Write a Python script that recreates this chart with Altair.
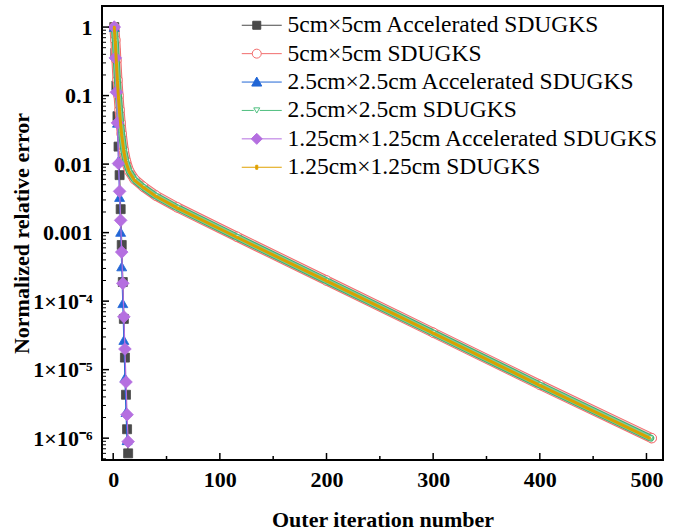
import altair as alt
import pandas as pd

# ---------------- data ----------------
labels = [
    "5cm×5cm Accelerated SDUGKS",
    "5cm×5cm SDUGKS",
    "2.5cm×2.5cm Accelerated SDUGKS",
    "2.5cm×2.5cm SDUGKS",
    "1.25cm×1.25cm Accelerated SDUGKS",
    "1.25cm×1.25cm SDUGKS",
]

# accelerated runs
acc5_iter = [1, 2, 3, 4, 5, 6, 7, 8, 9, 10, 11, 12, 13, 14]
acc5_err = [1.0, 0.42, 0.14, 0.050, 0.018, 0.0069, 0.0022, 6.6e-4, 1.9e-4,
            5.5e-5, 1.5e-5, 4.3e-6, 1.35e-6, 6.0e-7]
acc25_iter = [1, 2, 3, 4, 5, 6, 7, 8, 9, 10, 11, 12, 13]
acc25_err = [1.0, 0.40, 0.126, 0.040, 0.0112, 0.0033, 0.00102, 3.2e-4, 9.3e-5,
             2.7e-5, 7.6e-6, 2.4e-6, 9.3e-7]
acc125_iter = [1, 2, 3, 4, 5, 6, 7, 8, 9, 10, 11, 12, 13, 14]
acc125_err = [1.0, 0.355, 0.112, 0.040, 0.0102, 0.0040, 0.00151, 5.2e-4, 1.82e-4,
              5.9e-5, 2.0e-5, 6.6e-6, 2.2e-6, 8.9e-7]

# plain SDUGKS runs
sd5_iter = [1, 2, 3, 4, 5, 6, 7, 8, 10, 12, 15, 20, 28, 40, 60, 116, 200, 300, 400, 505]
sd5_err = [1.0, 0.65, 0.33, 0.17, 0.10, 0.062, 0.040, 0.0275, 0.0158, 0.011, 0.0079,
           0.0060, 0.0047, 0.00347, 0.00234, 8.7e-4, 2.0e-4, 3.47e-5, 6.0e-6, 1.0e-6]
sd25_iter = [1, 2, 3, 4, 5, 6, 7, 8, 10, 12, 15, 20, 28, 40, 60, 116, 200, 300, 400, 504]
sd25_err = [1.0, 0.62, 0.31, 0.16, 0.095, 0.060, 0.039, 0.027, 0.0155, 0.0108, 0.0078,
            0.0059, 0.0046, 0.00342, 0.00231, 8.6e-4, 1.98e-4, 3.44e-5, 5.95e-6, 1.0e-6]
sd125_iter = [1, 2, 3, 4, 5, 6, 7, 8, 10, 12, 15, 20, 28, 40, 60, 116, 200, 300, 400, 503]
sd125_err = [1.0, 0.60, 0.30, 0.155, 0.092, 0.058, 0.038, 0.0265, 0.0152, 0.0106, 0.0077,
             0.0058, 0.0046, 0.0034, 0.0023, 8.55e-4, 1.97e-4, 3.42e-5, 5.9e-6, 1.0e-6]

x_major = [0, 100, 200, 300, 400, 500]
x_minor = [50, 150, 250, 350, 450]
y_major = [1.0, 0.1, 0.01, 0.001, 1e-4, 1e-5, 1e-6]
y_minor = [m * 10.0 ** k for k in range(-7, 1) for m in range(2, 10)
           if 4.8e-7 < m * 10.0 ** k < 2.0]

colors = ["#4a4a4a", "#f26d6d", "#2166d6", "#4fbf7f", "#b56fe0", "#e0a100"]
fills = ["#4a4a4a", "white", "#2166d6", "white", "#b56fe0", "#e0a100"]

# legend symbols: line + marker (symbol size 400 -> 1 unit = 10 px)
sym_paths = [
    "M-1.5,0L2.5,0M-0.4,-0.4L0.4,-0.4L0.4,0.4L-0.4,0.4Z",
    "M-1.5,0L-0.45,0M0.45,0L2.5,0M-0.45,0A0.45,0.45 0 1,0 0.45,0A0.45,0.45 0 1,0 -0.45,0Z",
    "M-1.5,0L2.5,0M0,-0.5L0.5,0.4L-0.5,0.4Z",
    "M-1.5,0L-0.3,0M0.3,0L2.5,0M-0.3,-0.26L0.3,-0.26L0,0.26Z",
    "M-1.5,0L2.5,0M0,-0.55L0.55,0L0,0.55L-0.55,0Z",
    "M-1.5,0L2.5,0M-0.1,-0.2L0.1,-0.2L0.1,0.2L-0.1,0.2Z",
]

X_DOMAIN = [-10.5, 515.5]
Y_DOMAIN = [4.8e-7, 2.03]
W, H = 561, 454
FONT = "Liberation Serif"

x_axis = alt.Axis(
    title="Outer iteration number", values=x_major, tickSize=0, grid=False, domain=False,
    labelFont=FONT, labelFontWeight="bold", labelFontSize=22, labelColor="black",
    labelPadding=9, titleFont=FONT, titleFontWeight="bold", titleFontSize=22,
    titleColor="black", titlePadding=19, labelFlush=False,
)
y_label_expr = (
    "datum.value < 5e-6 ? '1×10⁻⁶' : datum.value < 5e-5 ? '1×10⁻⁵' : "
    "datum.value < 5e-4 ? '1×10⁻⁴' : datum.value < 0.005 ? '0.001' : "
    "datum.value < 0.05 ? '0.01' : datum.value < 0.5 ? '0.1' : '1'"
)
y_axis = alt.Axis(
    title="Normalized relative error", values=y_major, labelExpr=y_label_expr,
    tickSize=0, grid=False, domain=False,
    labelFont=FONT, labelFontWeight="bold", labelFontSize=22, labelColor="black",
    labelPadding=10, titleFont=FONT, titleFontWeight="bold", titleFontSize=22,
    titleColor="black", titlePadding=-1, labelFlush=False,
)


def xenc():
    return alt.X("iter:Q", scale=alt.Scale(domain=X_DOMAIN, nice=False, zero=False), axis=x_axis)


def yenc():
    return alt.Y("err:Q", scale=alt.Scale(type="log", domain=Y_DOMAIN, nice=False), axis=y_axis)


def df(it, er):
    return pd.DataFrame({"iter": it, "err": er})


layers = []


def acc_layers(it, er, idx, shape, size):
    d = df(it, er)
    layers.append(alt.Chart(d).mark_line(color=colors[idx], strokeWidth=1.2, clip=True)
                  .encode(x=xenc(), y=yenc()))
    layers.append(alt.Chart(d).mark_point(shape=shape, size=size, filled=True, opacity=1,
                                          fill=fills[idx], stroke=colors[idx], strokeWidth=0.8,
                                          clip=True)
                  .encode(x=xenc(), y=yenc()))


# 5cm accelerated
acc_layers(acc5_iter, acc5_err, 0, "square", 81)

# 5cm SDUGKS: dense open circles form a band
d = df(sd5_iter, sd5_err)
layers.append(alt.Chart(d).mark_line(color=colors[1], strokeWidth=10, strokeJoin="round",
                                     strokeCap="round", clip=True).encode(x=xenc(), y=yenc()))
layers.append(alt.Chart(d).mark_line(color="#f6c9c9", strokeWidth=8, strokeJoin="round",
                                     strokeCap="round", clip=True).encode(x=xenc(), y=yenc()))
layers.append(alt.Chart(d).mark_point(shape="circle", size=90, filled=False, opacity=1,
                                      fill="white", stroke=colors[1], strokeWidth=1, clip=True)
              .encode(x=xenc(), y=yenc()))

# 2.5cm accelerated
acc_layers(acc25_iter, acc25_err, 2, "triangle-up", 100)

# 2.5cm SDUGKS
d = df(sd25_iter, sd25_err)
layers.append(alt.Chart(d).mark_line(color="#3fae6c", strokeWidth=7, strokeJoin="round",
                                     strokeCap="round", clip=True).encode(x=xenc(), y=yenc()))
layers.append(alt.Chart(d).mark_line(color="#7ccf9c", strokeWidth=5, strokeJoin="round",
                                     strokeCap="round", clip=True).encode(x=xenc(), y=yenc()))
layers.append(alt.Chart(d).mark_point(shape="triangle-down", size=25, filled=False, opacity=1,
                                      fill="white", stroke=colors[3], strokeWidth=0.8, clip=True)
              .encode(x=xenc(), y=yenc()))

# 1.25cm accelerated
acc_layers(acc125_iter, acc125_err, 4, "diamond", 160)

# 1.25cm SDUGKS
d = df(sd125_iter, sd125_err)
layers.append(alt.Chart(d).mark_line(color="#d9a000", strokeWidth=3, strokeJoin="round",
                                     clip=True).encode(x=xenc(), y=yenc()))
layers.append(alt.Chart(d).mark_point(shape="square", size=6, filled=True, opacity=1,
                                      color=colors[5], clip=True)
              .encode(x=xenc(), y=yenc()))

# inward ticks
layers.append(alt.Chart(pd.DataFrame({"iter": x_major})).mark_rule(color="black", strokeWidth=1.5)
              .encode(x=xenc(), y=alt.value(H), y2=alt.value(H - 7)))
layers.append(alt.Chart(pd.DataFrame({"iter": x_minor})).mark_rule(color="black", strokeWidth=1.5)
              .encode(x=xenc(), y=alt.value(H), y2=alt.value(H - 4)))
layers.append(alt.Chart(pd.DataFrame({"err": y_major})).mark_rule(color="black", strokeWidth=1.5)
              .encode(y=yenc(), x=alt.value(0), x2=alt.value(7)))
layers.append(alt.Chart(pd.DataFrame({"err": y_minor})).mark_rule(color="black", strokeWidth=1)
              .encode(y=yenc(), x=alt.value(0), x2=alt.value(4)))

# legend carrier layer (points lie outside the domain and are clipped away)
leg_df = pd.DataFrame({"series": labels, "iter": [0] * 6, "err": [1e3] * 6})
layers.append(alt.Chart(leg_df).mark_point(clip=True, opacity=1, size=400, strokeWidth=1)
              .encode(
                  x=xenc(), y=yenc(),
                  shape=alt.Shape("series:N", scale=alt.Scale(domain=labels, range=sym_paths), title=None),
                  stroke=alt.Stroke("series:N", scale=alt.Scale(domain=labels, range=colors), title=None),
                  fill=alt.Fill("series:N", scale=alt.Scale(domain=labels, range=fills), title=None),
              ))

chart = (
    alt.layer(*layers)
    .properties(width=W, height=H, autosize="none",
                padding={"left": 102, "top": 6, "right": 11, "bottom": 72},
                background="white")
    .configure_view(stroke="black", strokeWidth=2)
    .configure_legend(orient="none", legendX=143, legendY=7.5, padding=0,
                      labelFont=FONT, labelFontSize=23.5, labelColor="black", labelLimit=0,
                      symbolSize=400, symbolStrokeWidth=1, rowPadding=3.4, labelOffset=19,
                      symbolOpacity=1)
)

chart.save("out.html", embed_options={"renderer": "svg", "actions": False})
